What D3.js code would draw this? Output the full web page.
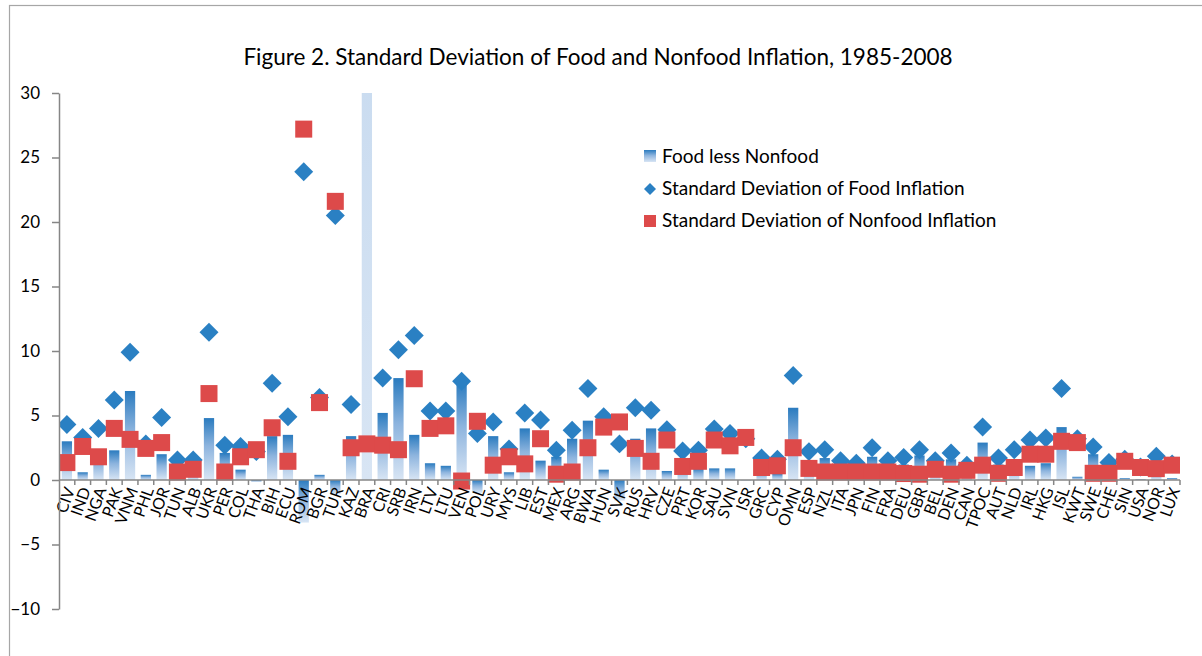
<!DOCTYPE html>
<html>
<head>
<meta charset="utf-8">
<script src="https://cdn.jsdelivr.net/npm/d3@7"></script>
<style>
    body { margin: 0; background: #fff; }
    text { font-family: Lato, "Open Sans", sans-serif; fill: #000; }
</style>
</head>
<body>
<div id="chart"></div>
<script>
// country codes along the x axis
var countries = ["CIV", "IND", "NGA", "PAK", "VNM", "PHL", "JOR", "TUN", "ALB", "UKR", "PER", "COL", "THA", "BIH", "ECU",
    "ROM", "BGR", "TUR", "KAZ", "BRA", "CRI", "SRB", "IRN", "LTV", "LTU", "VEN", "POL", "URY", "MYS", "LIB", "EST", "MEX",
    "ARG", "BWA", "HUN", "SVK", "RUS", "HRV", "CZE", "PRT", "KOR", "SAU", "SVN", "ISR", "GRC", "CYP", "OMN", "ESP", "NZL",
    "ITA", "JPN", "FIN", "FRA", "DEU", "GBR", "BEL", "DEN", "CAN", "TPOC", "AUT", "NLD", "IRL", "HKG", "ISL", "KWT", "SWE",
    "CHE", "SIN", "USA", "NOR", "LUX"];

// bars: food less nonfood (BRA runs far off the top of the chart)
var foodLessNonfood = [3.0, 0.6, 2.2, 2.3, 6.9, 0.4, 2.0, 0.9, 0.7, 4.8, 2.1, 0.8, -0.15, 3.4, 3.5,
    -3.3, 0.4, -1.1, 3.4, 300, 5.2, 7.9, 3.5, 1.3, 1.1, 7.6, -1.0, 3.4, 0.6, 4.0, 1.5, 1.8,
    3.2, 4.6, 0.8, -1.6, 3.2, 4.0, 0.7, 1.1, 0.9, 0.9, 0.9, -0.05, 0.7, 0.5, 5.6, 1.3, 1.7,
    0.9, 0.65, 1.8, 0.9, 1.2, 1.9, 0.7, 1.6, 0.4, 2.9, 1.2, 1.4, 1.1, 1.3, 4.1, 0.25, 2.0,
    0.8, 0.15, 0.05, 1.0, 0.15];

// diamonds: standard deviation of food inflation
var foodStd = [4.3, 3.3, 4.0, 6.2, 9.9, 2.8, 4.85, 1.55, 1.55, 11.45, 2.7, 2.6, 2.2, 7.5, 4.9,
    23.9, 6.4, 20.5, 5.85, 303, 7.9, 10.1, 11.2, 5.35, 5.35, 7.65, 3.6, 4.5, 2.4, 5.2, 4.65, 2.3,
    3.85, 7.1, 4.9, 2.8, 5.6, 5.4, 3.9, 2.25, 2.3, 3.95, 3.6, 3.2, 1.7, 1.6, 8.1, 2.2, 2.35,
    1.5, 1.3, 2.5, 1.5, 1.75, 2.35, 1.5, 2.1, 1.15, 4.1, 1.7, 2.35, 3.1, 3.25, 7.1, 3.2, 2.55,
    1.35, 1.6, 1.0, 1.85, 1.25];

// squares: standard deviation of nonfood inflation
var nonfoodStd = [1.35, 2.6, 1.8, 4.0, 3.15, 2.45, 2.9, 0.62, 0.83, 6.7, 0.62, 1.8, 2.35, 4.05, 1.45,
    27.2, 6.0, 21.6, 2.5, 2.8, 2.7, 2.35, 7.85, 4.0, 4.2, -0.08, 4.55, 1.15, 1.8, 1.25, 3.2, 0.45,
    0.62, 2.5, 4.1, 4.5, 2.45, 1.45, 3.1, 1.05, 1.45, 3.1, 2.65, 3.3, 0.97, 1.1, 2.5, 0.9, 0.62,
    0.62, 0.62, 0.62, 0.62, 0.5, 0.45, 0.83, 0.45, 0.75, 1.15, 0.52, 0.97, 2.0, 2.0, 3.0, 2.9, 0.52,
    0.52, 1.45, 0.97, 0.88, 1.15];

// y axis ticks
var yTicks = [-10, -5, 0, 5, 10, 15, 20, 25, 30];

var seriesNames = ["Food less Nonfood", "Standard Deviation of Food Inflation", "Standard Deviation of Nonfood Inflation"];

function chart() {
    var width = 1202, height = 656;
    var plot = {left: 59, right: 1180, top: 93, bottom: 609};

    var svg = d3.select("#chart").append("svg").attr("width", width).attr("height", height);

    // outer frame of the chart area
    svg.append("rect").attr("x", 9.5).attr("y", 5.5).attr("width", 1220).attr("height", 700)
        .attr("fill", "none").attr("stroke", "#a6a6a6").attr("stroke-width", 1.2);

    // gradient used by the bars, dark at the top and light at the bottom
    var defs = svg.append("defs");
    var grad = defs.append("linearGradient").attr("id", "barGrad")
        .attr("x1", 0).attr("y1", 0).attr("x2", 0).attr("y2", 1);
    grad.append("stop").attr("offset", "0%").attr("stop-color", "#2a7bbf");
    grad.append("stop").attr("offset", "45%").attr("stop-color", "#8db4de");
    grad.append("stop").attr("offset", "100%").attr("stop-color", "#d8e5f4");

    defs.append("clipPath").attr("id", "plotClip").append("rect")
        .attr("x", plot.left).attr("y", plot.top)
        .attr("width", plot.right - plot.left).attr("height", plot.bottom - plot.top);

    // scales
    var x = d3.scaleBand().domain(countries).range([plot.left, plot.right]).padding(0);
    var y = d3.scaleLinear().domain([-10, 30]).range([plot.bottom, plot.top]);
    var barW = x.bandwidth() * 0.65;

    // title
    svg.append("text").attr("x", 598).attr("y", 65).attr("text-anchor", "middle")
        .style("font-size", "22.5px")
        .text("Figure 2. Standard Deviation of Food and Nonfood Inflation, 1985-2008");

    var g = svg.append("g").attr("clip-path", "url(#plotClip)");

    // bars
    g.selectAll(".bar").data(countries).enter().append("rect")
        .attr("class", "bar")
        .attr("x", function(d) { return x(d) + (x.bandwidth() - barW) / 2; })
        .attr("y", function(d, i) { return y(Math.max(0, foodLessNonfood[i])); })
        .attr("width", barW)
        .attr("height", function(d, i) { return Math.abs(y(foodLessNonfood[i]) - y(0)); })
        .attr("fill", "url(#barGrad)");

    // x axis line at zero, ticks between categories
    svg.append("line").attr("x1", plot.left).attr("x2", plot.right).attr("y1", y(0)).attr("y2", y(0))
        .attr("stroke", "#868686").attr("stroke-width", 1.5);
    var bounds = countries.map(function(d) { return x(d); }).concat([plot.right]);
    svg.selectAll(".xtick").data(bounds.slice(1)).enter().append("line")
        .attr("x1", function(d) { return d; }).attr("x2", function(d) { return d; })
        .attr("y1", y(0)).attr("y2", y(0) + 5)
        .attr("stroke", "#868686").attr("stroke-width", 1.5);

    // x labels, rotated
    svg.selectAll(".xlabel").data(countries).enter().append("text")
        .attr("text-anchor", "end")
        .attr("dy", "0.35em")
        .attr("transform", function(d) { return "translate(" + (x(d) + x.bandwidth() / 2 + 3) + "," + (y(0) + 8) + ") rotate(-70)"; })
        .style("font-size", "16px")
        .text(function(d) { return d; });

    // y axis
    var yAxis = svg.append("g").attr("transform", "translate(" + plot.left + ",0)")
        .call(d3.axisLeft(y).tickValues(yTicks).tickSize(7).tickPadding(12).tickSizeOuter(0));
    yAxis.select(".domain").attr("stroke", "#868686").attr("stroke-width", 1.5);
    yAxis.selectAll(".tick line").attr("stroke", "#868686").attr("stroke-width", 1.5);
    yAxis.selectAll(".tick text").style("font-size", "17px").style("font-family", "Lato, sans-serif").attr("fill", "#000");

    // diamonds for food inflation
    var diamond = d3.symbol().type(d3.symbolSquare).size(180);
    g.selectAll(".food").data(countries).enter().append("path")
        .attr("d", diamond)
        .attr("transform", function(d, i) { return "translate(" + (x(d) + x.bandwidth() / 2) + "," + y(foodStd[i]) + ") rotate(45)"; })
        .attr("fill", "#2a80c3");

    // squares for nonfood inflation
    var sq = 17;
    g.selectAll(".nonfood").data(countries).enter().append("rect")
        .attr("x", function(d) { return x(d) + x.bandwidth() / 2 - sq / 2; })
        .attr("y", function(d, i) { return y(nonfoodStd[i]) - sq / 2; })
        .attr("width", sq).attr("height", sq)
        .attr("fill", "#dd4a4a");

    // legend
    var legend = svg.append("g").attr("transform", "translate(644,150)");
    legend.append("rect").attr("x", 0).attr("y", 0).attr("width", 12).attr("height", 12).attr("fill", "url(#barGrad)");
    legend.append("path").attr("d", d3.symbol().type(d3.symbolSquare).size(72))
        .attr("transform", "translate(6,39) rotate(45)").attr("fill", "#2a80c3");
    legend.append("rect").attr("x", 0).attr("y", 65).attr("width", 12).attr("height", 12).attr("fill", "#dd4a4a");
    legend.selectAll(".legendText").data(seriesNames).enter().append("text")
        .attr("x", 18).attr("y", function(d, i) { return 12.5 + i * 32; })
        .style("font-size", "19px")
        .text(function(d) { return d; });
}

chart();
</script>
</body>
</html>
